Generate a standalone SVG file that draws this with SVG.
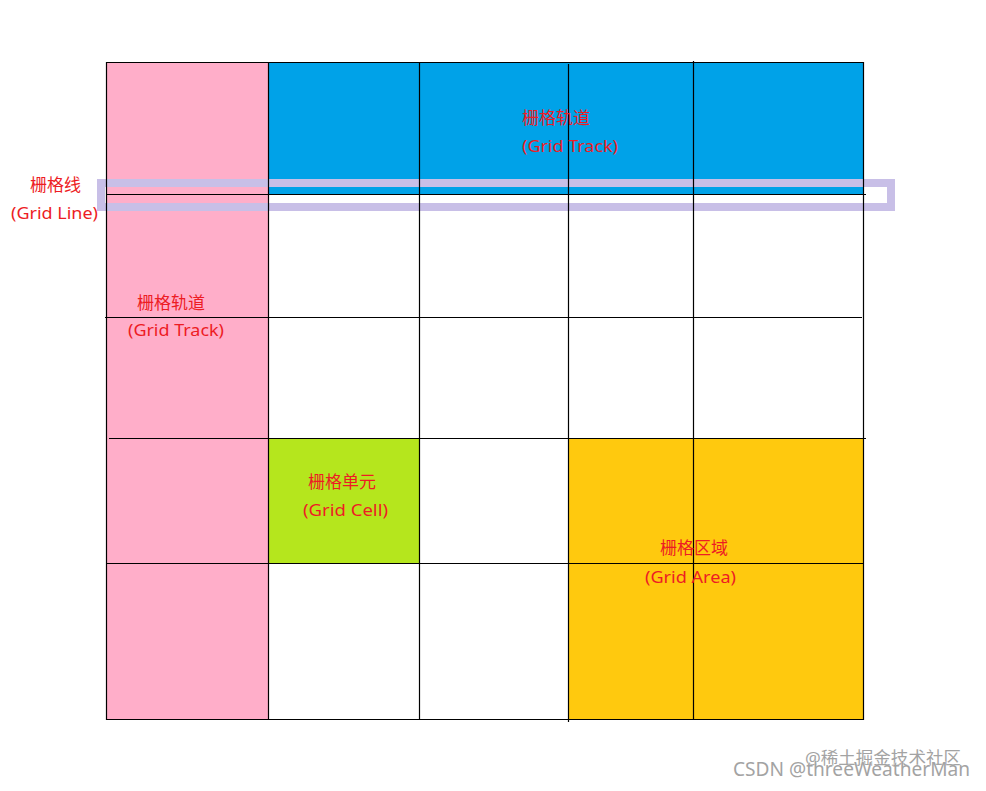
<svg xmlns="http://www.w3.org/2000/svg" width="986" height="791" viewBox="0 0 986 791">
<style>
.lbl{font-family:"Noto Sans","Noto Sans CJK SC",sans-serif;font-size:17px;fill:#ED1C24}
.gl{stroke:#000;stroke-width:1.2;fill:none}
.wm{font-family:"Noto Sans","Noto Sans CJK SC",sans-serif;fill:#a3a3a3;stroke:#ffffff;stroke-width:0.6;paint-order:stroke}
</style>
<rect width="986" height="791" fill="#ffffff"/>
<g id="track-column">
<rect x="106" y="62" width="162" height="657" fill="#FFAEC9"/>
</g>
<g id="track-row">
<rect x="268" y="62" width="595" height="132" fill="#00A2E8"/>
</g>
<g id="grid-cell">
<rect x="268" y="438" width="151" height="125" fill="#B5E61D"/>
</g>
<g id="grid-area">
<rect x="568" y="438" width="295" height="281" fill="#FFC90E"/>
</g>
<g id="grid-line-highlight">
<rect x="101" y="183" width="790" height="24" fill="none" stroke="#C8BFE7" stroke-width="8"/>
</g>
<g id="grid-lines" class="gl">
<line x1="106.5" y1="62" x2="106.5" y2="720"/>
<line x1="268.5" y1="62" x2="268.5" y2="720"/>
<line x1="419.5" y1="62" x2="419.5" y2="720"/>
<line x1="568.5" y1="64" x2="568.5" y2="722"/>
<line x1="693.5" y1="61" x2="693.5" y2="720"/>
<line x1="863.5" y1="62" x2="863.5" y2="720"/>
<line x1="106" y1="62.5" x2="864" y2="62.5"/>
<line x1="106" y1="194.5" x2="866" y2="194.5"/>
<line x1="105" y1="317.5" x2="862" y2="317.5"/>
<line x1="109" y1="438.5" x2="866" y2="438.5"/>
<line x1="106" y1="563.5" x2="864" y2="563.5"/>
<line x1="106" y1="719.5" x2="864" y2="719.5"/>
</g>
<g id="label-track-row" class="lbl">
<text x="522" y="124">栅格轨道</text>
<text x="522" y="152" textLength="96" lengthAdjust="spacingAndGlyphs">(Grid Track)</text>
</g>
<g id="label-grid-line" class="lbl">
<text x="30" y="191">栅格线</text>
<text x="11" y="219" textLength="87" lengthAdjust="spacingAndGlyphs">(Grid Line)</text>
</g>
<g id="label-track-column" class="lbl">
<text x="137" y="309">栅格轨道</text>
<text x="128" y="336" textLength="96" lengthAdjust="spacingAndGlyphs">(Grid Track)</text>
</g>
<g id="label-grid-cell" class="lbl">
<text x="308" y="488">栅格单元</text>
<text x="303" y="516" textLength="85" lengthAdjust="spacingAndGlyphs">(Grid Cell)</text>
</g>
<g id="label-grid-area" class="lbl">
<text x="660" y="554">栅格区域</text>
<text x="645" y="583" textLength="91" lengthAdjust="spacingAndGlyphs">(Grid Area)</text>
</g>
<g id="watermark">
<text class="wm" x="805" y="764" font-size="17" textLength="156" lengthAdjust="spacingAndGlyphs">@稀土掘金技术社区</text>
<text class="wm" x="733" y="776" font-size="20" textLength="237" lengthAdjust="spacingAndGlyphs">CSDN @threeWeatherMan</text>
</g>
</svg>
